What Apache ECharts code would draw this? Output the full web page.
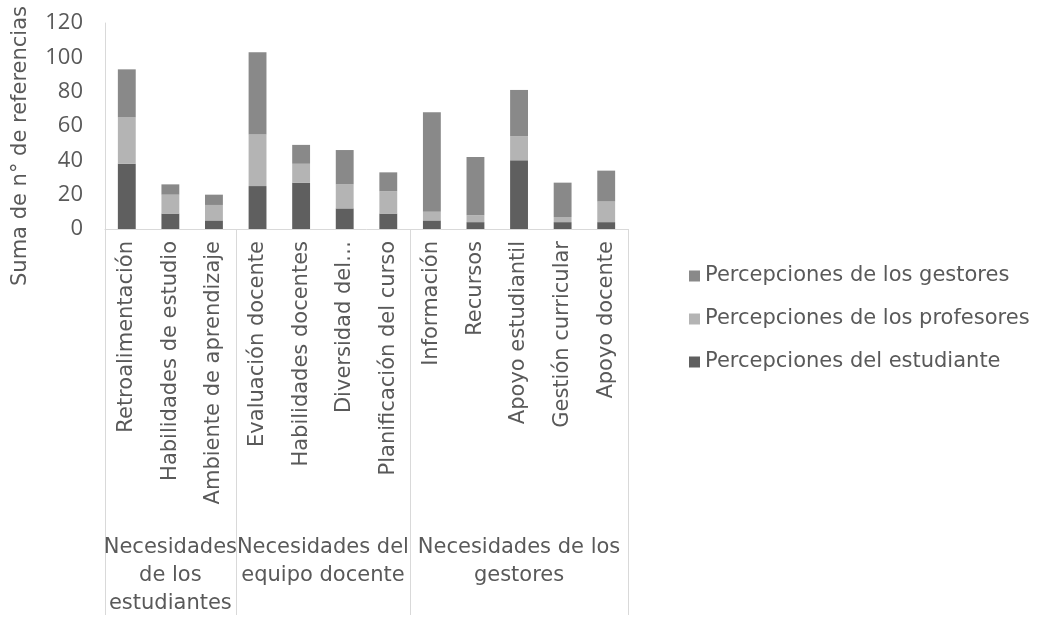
<!DOCTYPE html>
<html>
<head>
<meta charset="utf-8">
<script src="https://cdn.jsdelivr.net/npm/echarts@6/dist/echarts.min.js"></script>
<style>
html,body{margin:0;padding:0;background:#fff;}
#chart{width:1039px;height:618px;}
</style>
</head>
<body>
<div id="chart"></div>
<script>
const categories = ['Retroalimentación','Habilidades de estudio','Ambiente de aprendizaje','Evaluación docente','Habilidades docentes','Diversidad del…','Planificación del curso','Información','Recursos','Apoyo estudiantil','Gestión curricular','Apoyo docente'];
const groupNames = ['Necesidades\nde los\nestudiantes','Necesidades del\nequipo docente','Necesidades de los\ngestores'];
const groupSizes = [3, 4, 5];
const estudiante = [38, 9, 5, 25, 27, 12, 9, 5, 4, 40, 4, 4];
const profesores = [27, 11, 9, 30, 11, 14, 13, 5, 4, 14, 3, 12];
const gestores   = [28, 6, 6, 48, 11, 20, 11, 58, 34, 27, 20, 18];
const yTicks = [0, 20, 40, 60, 80, 100, 120];

const FONT = 'DejaVu Sans';
const NUMFONT = 'Open Sans';
const TXT = '#595959';
const LINE = '#d9d9d9';

const bounds = [0];
groupSizes.forEach(s => bounds.push(bounds[bounds.length-1] + s));
const centres = groupSizes.map((s, i) => bounds[i] + s / 2);

const chart = echarts.init(document.getElementById('chart'), null, {renderer: 'canvas'});
chart.setOption({
  animation: false,
  textStyle: {fontFamily: FONT},
  grid: {left: 105, right: 411, top: 23, bottom: 386, containLabel: false},
  legend: {
    orient: 'vertical', left: 684, top: 259,
    itemWidth: 11, itemHeight: 11, itemGap: 19,
    icon: 'rect',
    data: ['Percepciones de los gestores', 'Percepciones de los profesores', 'Percepciones del estudiante'],
    textStyle: {fontFamily: FONT, fontSize: 21, color: TXT, lineHeight: 24}
  },
  xAxis: [
    {
      type: 'category', data: categories,
      axisLine: {show: true, lineStyle: {color: LINE, width: 1}},
      axisTick: {show: false},
      axisLabel: {rotate: 90, interval: 0, margin: 12, fontSize: 21, color: TXT, fontFamily: FONT}
    },
    {
      type: 'value', min: 0, max: bounds[bounds.length-1], position: 'bottom',
      axisLine: {show: false},
      splitLine: {show: false},
      axisTick: {show: true, customValues: bounds, length: 386, lineStyle: {color: LINE, width: 1}},
      axisLabel: {
        customValues: centres, margin: 305, fontSize: 21, color: TXT, fontFamily: FONT, lineHeight: 28, align: 'center',
        formatter: function (v) {
          const i = centres.findIndex(c => Math.abs(c - v) < 1e-6);
          return i >= 0 ? groupNames[i] : '';
        }
      }
    }
  ],
  yAxis: {
    type: 'value', min: yTicks[0], max: yTicks[yTicks.length-1], interval: 20,
    name: 'Suma de n° de referencias', nameLocation: 'middle', nameRotate: 90, nameGap: 74,
    nameTextStyle: {fontSize: 21, color: TXT, fontFamily: FONT, padding: [0, 40, 0, 0]},
    axisLine: {show: true, lineStyle: {color: LINE, width: 1}},
    axisTick: {show: false},
    splitLine: {show: false},
    axisLabel: {fontSize: 22, color: TXT, margin: 22, fontFamily: NUMFONT}
  },
  series: [
    {name: 'Percepciones del estudiante', type: 'bar', stack: 'a', data: estudiante, barWidth: '41%', itemStyle: {color: '#5f5f5f'}},
    {name: 'Percepciones de los profesores', type: 'bar', stack: 'a', data: profesores, barWidth: '41%', itemStyle: {color: '#b4b4b4'}},
    {name: 'Percepciones de los gestores', type: 'bar', stack: 'a', data: gestores, barWidth: '41%', itemStyle: {color: '#898989'}}
  ]
});
</script>
</body>
</html>
